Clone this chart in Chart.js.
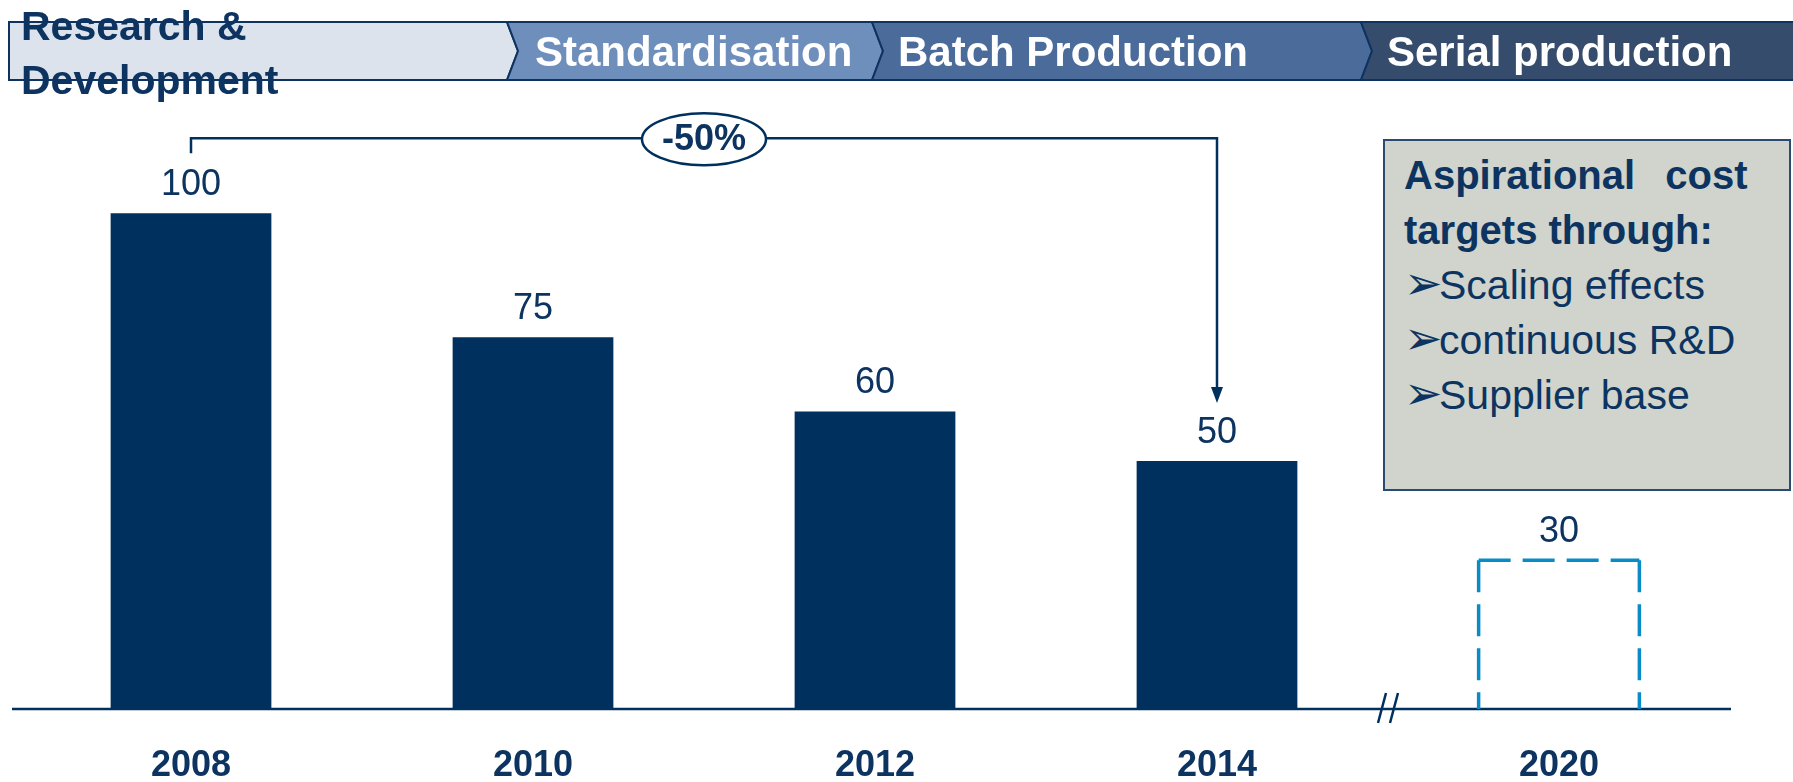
<!DOCTYPE html>
<html>
<head>
<meta charset="utf-8">
<script src="https://cdn.jsdelivr.net/npm/chart.js@4/dist/chart.umd.min.js"></script>
<style>
  html, body { margin: 0; padding: 0; background: #fff; }
  body { width: 1793px; height: 782px; position: relative; overflow: hidden;
         font-family: "Liberation Sans", Arial, sans-serif; }
  #wrap { position: absolute; left: 0; top: 0; width: 1793px; height: 782px; }
  #band { position: absolute; left: 0; top: 0; }
  #box { position: absolute; left: 1383px; top: 139px; width: 385px; height: 341px;
         background: #d0d4cc; border: 2px solid #2b4a72; padding: 7px 0 0 19px;
         color: #0d3461; font-size: 40px; line-height: 55px; }
  #box .hd { font-weight: bold; white-space: nowrap; }
  #box .it { white-space: nowrap; font-size: 41px; }
  #box .bl { display: inline-block; width: 35px; font-family: "DejaVu Sans"; font-size: 46px;
             line-height: 0; font-weight: bold; }
</style>
</head>
<body>
<div id="wrap"><canvas id="costChart"></canvas></div>

<svg id="band" width="1793" height="110">
  <g stroke="#0e3360" stroke-width="2">
    <polygon points="9,22 507,22 518,51 507,80 9,80" fill="#dde3ec"/>
    <polygon points="507,22 872,22 883,51 872,80 507,80 518,51" fill="#6e8ebb"/>
    <polygon points="872,22 1361,22 1372,51 1361,80 872,80 883,51" fill="#4b6b9a"/>
    <polygon points="1361,22 1795,22 1795,80 1361,80 1372,51" fill="#364c6d"/>
  </g>
  <g font-family="Liberation Sans, Arial, sans-serif" font-weight="bold" font-size="41">
    <text x="21" y="40" fill="#0d3461">Research &amp;</text>
    <text x="21" y="94" fill="#0d3461">Development</text>
    <text x="535" y="66" fill="#fff" font-size="42">Standardisation</text>
    <text x="898" y="66" fill="#fff" font-size="42">Batch Production</text>
    <text x="1387" y="66" fill="#fff" font-size="42">Serial production</text>
  </g>
</svg>

<div id="box">
  <div class="hd" style="word-spacing:19px">Aspirational cost</div>
  <div class="hd">targets through:</div>
  <div class="it"><span class="bl">➢</span>Scaling effects</div>
  <div class="it"><span class="bl">➢</span>continuous R&amp;D</div>
  <div class="it"><span class="bl">➢</span>Supplier base</div>
</div>

<script>
// chart data
var years = ['2008', '2010', '2012', '2014', '2020'];
var actualCost = [100, 75, 60, 50, null];
var targetCost = [null, null, null, null, 30];
var yMax = 120;
var reductionLabel = '-50%';

var navy = '#00305e';
var textNavy = '#0d3461';
var dashBlue = '#0a8bc7';
var fontName = '"Liberation Sans", Arial, sans-serif';

// draws value labels, dashed target bar, axis line with break, and the -50% bracket
var extras = {
  id: 'extras',
  afterDatasetsDraw: function(chart) {
    var ctx = chart.ctx;
    var area = chart.chartArea;
    var bars = chart.getDatasetMeta(0).data;
    var target = chart.getDatasetMeta(1).data;

    ctx.save();

    // axis line
    ctx.strokeStyle = navy;
    ctx.lineWidth = 2.5;
    ctx.beginPath();
    ctx.moveTo(area.left - 8, area.bottom);
    ctx.lineTo(area.right + 1, area.bottom);
    ctx.stroke();

    // dashed target bar
    target.forEach(function(bar, i) {
      if (targetCost[i] == null) return;
      var p = bar.getProps(['x', 'y', 'base', 'width'], true);
      var l = p.x - p.width / 2, r = p.x + p.width / 2;
      ctx.strokeStyle = dashBlue;
      ctx.lineWidth = 3.5;
      ctx.setLineDash([32, 12]);
      [[l, p.y, l, p.base], [l, p.y, r, p.y], [r, p.y, r, p.base]].forEach(function(s) {
        ctx.beginPath();
        ctx.moveTo(s[0], s[1]);
        ctx.lineTo(s[2], s[3]);
        ctx.stroke();
      });
      ctx.setLineDash([]);
    });

    // axis break between last actual and target
    var b3 = bars[3].getProps(['x', 'width'], true);
    var t4 = target[4].getProps(['x', 'width'], true);
    var bx = ((b3.x + b3.width / 2) + (t4.x - t4.width / 2)) / 2;
    ctx.strokeStyle = navy;
    ctx.lineWidth = 2.5;
    [[bx - 2, bx - 10], [bx + 10, bx + 2]].forEach(function(s) {
      ctx.beginPath();
      ctx.moveTo(s[0], area.bottom - 16);
      ctx.lineTo(s[1], area.bottom + 14);
      ctx.stroke();
    });

    // value labels
    ctx.fillStyle = textNavy;
    ctx.font = '36px ' + fontName;
    ctx.textAlign = 'center';
    ctx.textBaseline = 'middle';
    bars.forEach(function(bar, i) {
      if (actualCost[i] == null) return;
      ctx.fillText(actualCost[i], bar.x, bar.y - 28);
    });
    target.forEach(function(bar, i) {
      if (targetCost[i] == null) return;
      ctx.fillText(targetCost[i], bar.x, bar.y - 28);
    });

    // -50% bracket from first bar to 2014 bar
    var first = bars[0], last = bars[3];
    var lineY = first.y - 75;
    ctx.strokeStyle = navy;
    ctx.lineWidth = 2.5;
    ctx.beginPath();
    ctx.moveTo(first.x, first.y - 60);
    ctx.lineTo(first.x, lineY);
    ctx.lineTo(last.x, lineY);
    ctx.lineTo(last.x, last.y - 72);
    ctx.stroke();
    var tipY = last.y - 58;
    ctx.fillStyle = navy;
    ctx.beginPath();
    ctx.moveTo(last.x - 6, tipY - 16);
    ctx.lineTo(last.x + 6, tipY - 16);
    ctx.lineTo(last.x, tipY);
    ctx.closePath();
    ctx.fill();

    var midX = (first.x + last.x) / 2;
    ctx.beginPath();
    ctx.ellipse(midX, lineY + 1, 62, 26, 0, 0, Math.PI * 2);
    ctx.fillStyle = '#fff';
    ctx.fill();
    ctx.lineWidth = 2.5;
    ctx.stroke();
    ctx.fillStyle = textNavy;
    ctx.font = 'bold 36px ' + fontName;
    ctx.fillText(reductionLabel, midX, lineY + 2);

    ctx.restore();
  }
};

var costChart = new Chart(document.getElementById('costChart').getContext('2d'), {
  type: 'bar',
  data: {
    labels: years,
    datasets: [{
      data: actualCost,
      backgroundColor: navy,
      barPercentage: 0.47,
      categoryPercentage: 1
    }, {
      data: targetCost,
      backgroundColor: 'rgba(0,0,0,0)',
      borderWidth: 0,
      barPercentage: 0.47,
      categoryPercentage: 1
    }]
  },
  options: {
    responsive: true,
    maintainAspectRatio: false,
    animation: false,
    layout: { padding: { top: 114, left: 20, right: 63, bottom: 0 } },
    plugins: { legend: { display: false }, tooltip: { enabled: false } },
    scales: {
      x: {
        stacked: true,
        grid: { display: false, drawTicks: false },
        border: { display: false },
        ticks: {
          color: textNavy,
          padding: 39,
          font: { family: fontName, size: 36, weight: 'bold', lineHeight: 1 }
        },
        afterFit: function(scale) { scale.height = 73; }
      },
      y: { stacked: true, display: false, min: 0, max: yMax }
    }
  },
  plugins: [extras]
});
</script>
</body>
</html>
